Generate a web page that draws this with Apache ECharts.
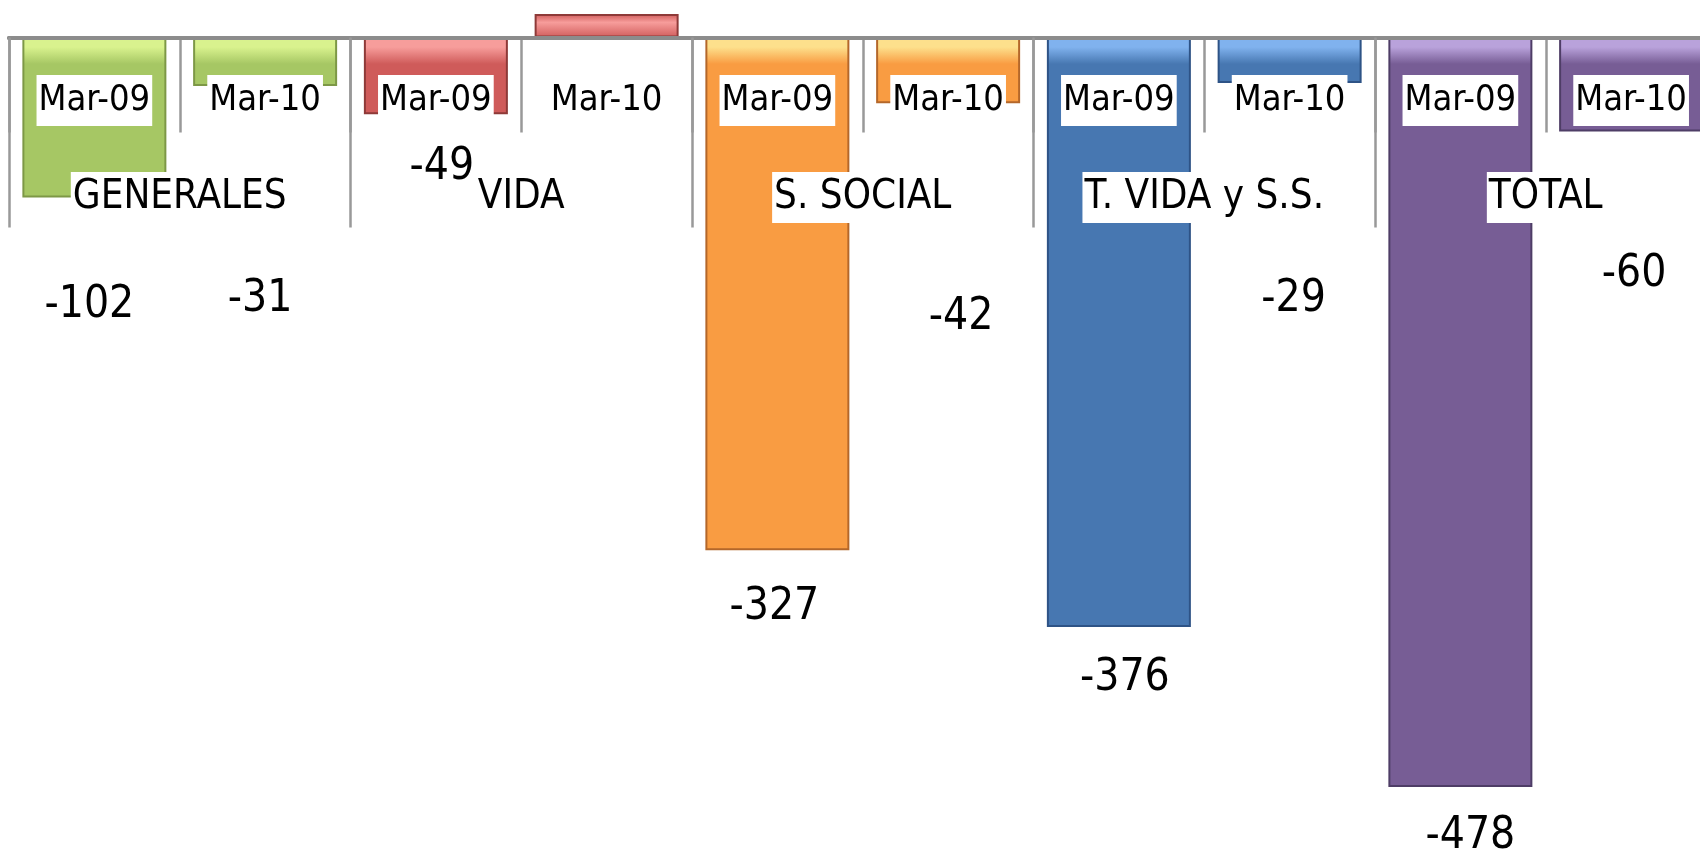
<!DOCTYPE html>
<html>
<head>
<meta charset="utf-8">
<script src="https://cdn.jsdelivr.net/npm/echarts@6/dist/echarts.min.js"></script>
<style>
html,body{margin:0;padding:0;background:#fff;}
#chart{width:1700px;height:852px;}
</style>
</head>
<body>
<div id="chart"></div>
<script>
// ---- data ----
const groups = ['GENERALES', 'VIDA', 'S. SOCIAL', 'T. VIDA y S.S.', 'TOTAL'];
const periods = ['Mar-09', 'Mar-10'];
const mar09 = [-102, -49, -327, -376, -478];
const mar10 = [-31, 15, -42, -29, -60];

// ---- styling (not data) ----
const FONT = "'Liberation Sans Narrow', 'Arial Narrow', 'DejaVu Sans Condensed', sans-serif";
const palette = [
  {main:'#A6C764', light:'#D9F28E', edge:'#7D9846'},
  {main:'#CF5B5A', light:'#F79D9B', edge:'#8E3A38'},
  {main:'#F99C42', light:'#FDE08C', edge:'#B4672A'},
  {main:'#4777B1', light:'#80B2EE', edge:'#2E5386'},
  {main:'#775D95', light:'#B9A2DB', edge:'#4E3D66'}
];
// label nudges [dx, dy] per bar (manual placements in the original)
const labelNudge = [[-5,83],[-5,188],[6,28],[0,0],[-3,32],[13,189],[6,27],[4,192],[10,25],[3,118]];

const cats = [];
const values = [];
groups.forEach((g, i) => {
  cats.push(periods[0], periods[1]);
  values.push(mar09[i], mar10[i]);
});

function barColor(p, positive) {
  return new echarts.graphic.LinearGradient(0, positive ? 14 : 38, 0, positive ? 38 : 64, [
    {offset: 0, color: positive ? p.main : p.light},
    {offset: 0.35, color: p.light},
    {offset: 1, color: p.main}
  ], true);
}

const seriesData = values.map((v, k) => {
  const p = palette[Math.floor(k / 2)];
  const n = labelNudge[k];
  return {
    value: v,
    itemStyle: {color: barColor(p, v > 0), borderColor: p.edge, borderWidth: 2},
    label: {show: v < 0, position: 'outside', distance: 0, offset: n}
  };
});

const gridBox = {left: 9, top: 6.1, width: 1707.5, height: 815.4, containLabel: false, outerBoundsMode: 'none'};
const axisLineStyle = {color: '#8C8C8C', width: 4};
const tickStyle = {color: '#999999', width: 2.5};

const chart = echarts.init(document.getElementById('chart'), null, {renderer: 'canvas'});
chart.setOption({
  animation: false,
  backgroundColor: '#ffffff',
  grid: [Object.assign({}, gridBox), Object.assign({}, gridBox)],
  yAxis: [
    {type: 'value', gridIndex: 0, min: -500, max: 20, show: false, splitLine: {show: false}},
    {type: 'value', gridIndex: 1, min: -500, max: 20, show: false, splitLine: {show: false}}
  ],
  xAxis: [
    {
      type: 'category', gridIndex: 0, data: cats, position: 'top', z: 10,
      axisLine: {show: true, onZero: true, lineStyle: axisLineStyle},
      axisTick: {show: true, inside: true, interval: 0, length: 95, lineStyle: tickStyle},
      axisLabel: {
        inside: true, interval: 0, margin: 69, fontSize: 36, fontFamily: FONT, color: '#000',
        backgroundColor: '#ffffff', padding: [5, 2, 5, 2], lineHeight: 41
      }
    },
    {
      type: 'category', gridIndex: 1, data: groups, position: 'top', z: 11,
      axisLine: {show: true, onZero: true, lineStyle: axisLineStyle},
      axisTick: {show: true, inside: true, interval: 0, length: 190, lineStyle: tickStyle},
      axisLabel: {
        inside: true, interval: 0, margin: 166, fontSize: 40, fontFamily: FONT, color: '#000',
        backgroundColor: '#ffffff', padding: [3, 2, 3, 2], lineHeight: 45
      }
    }
  ],
  series: [{
    type: 'bar', xAxisIndex: 0, yAxisIndex: 0, barWidth: 144, z: 2,
    data: seriesData,
    label: {
      show: true, fontSize: 44, fontFamily: FONT, color: '#000', lineHeight: 50,
      verticalAlign: 'top'
    }
  }]
});
</script>
</body>
</html>
